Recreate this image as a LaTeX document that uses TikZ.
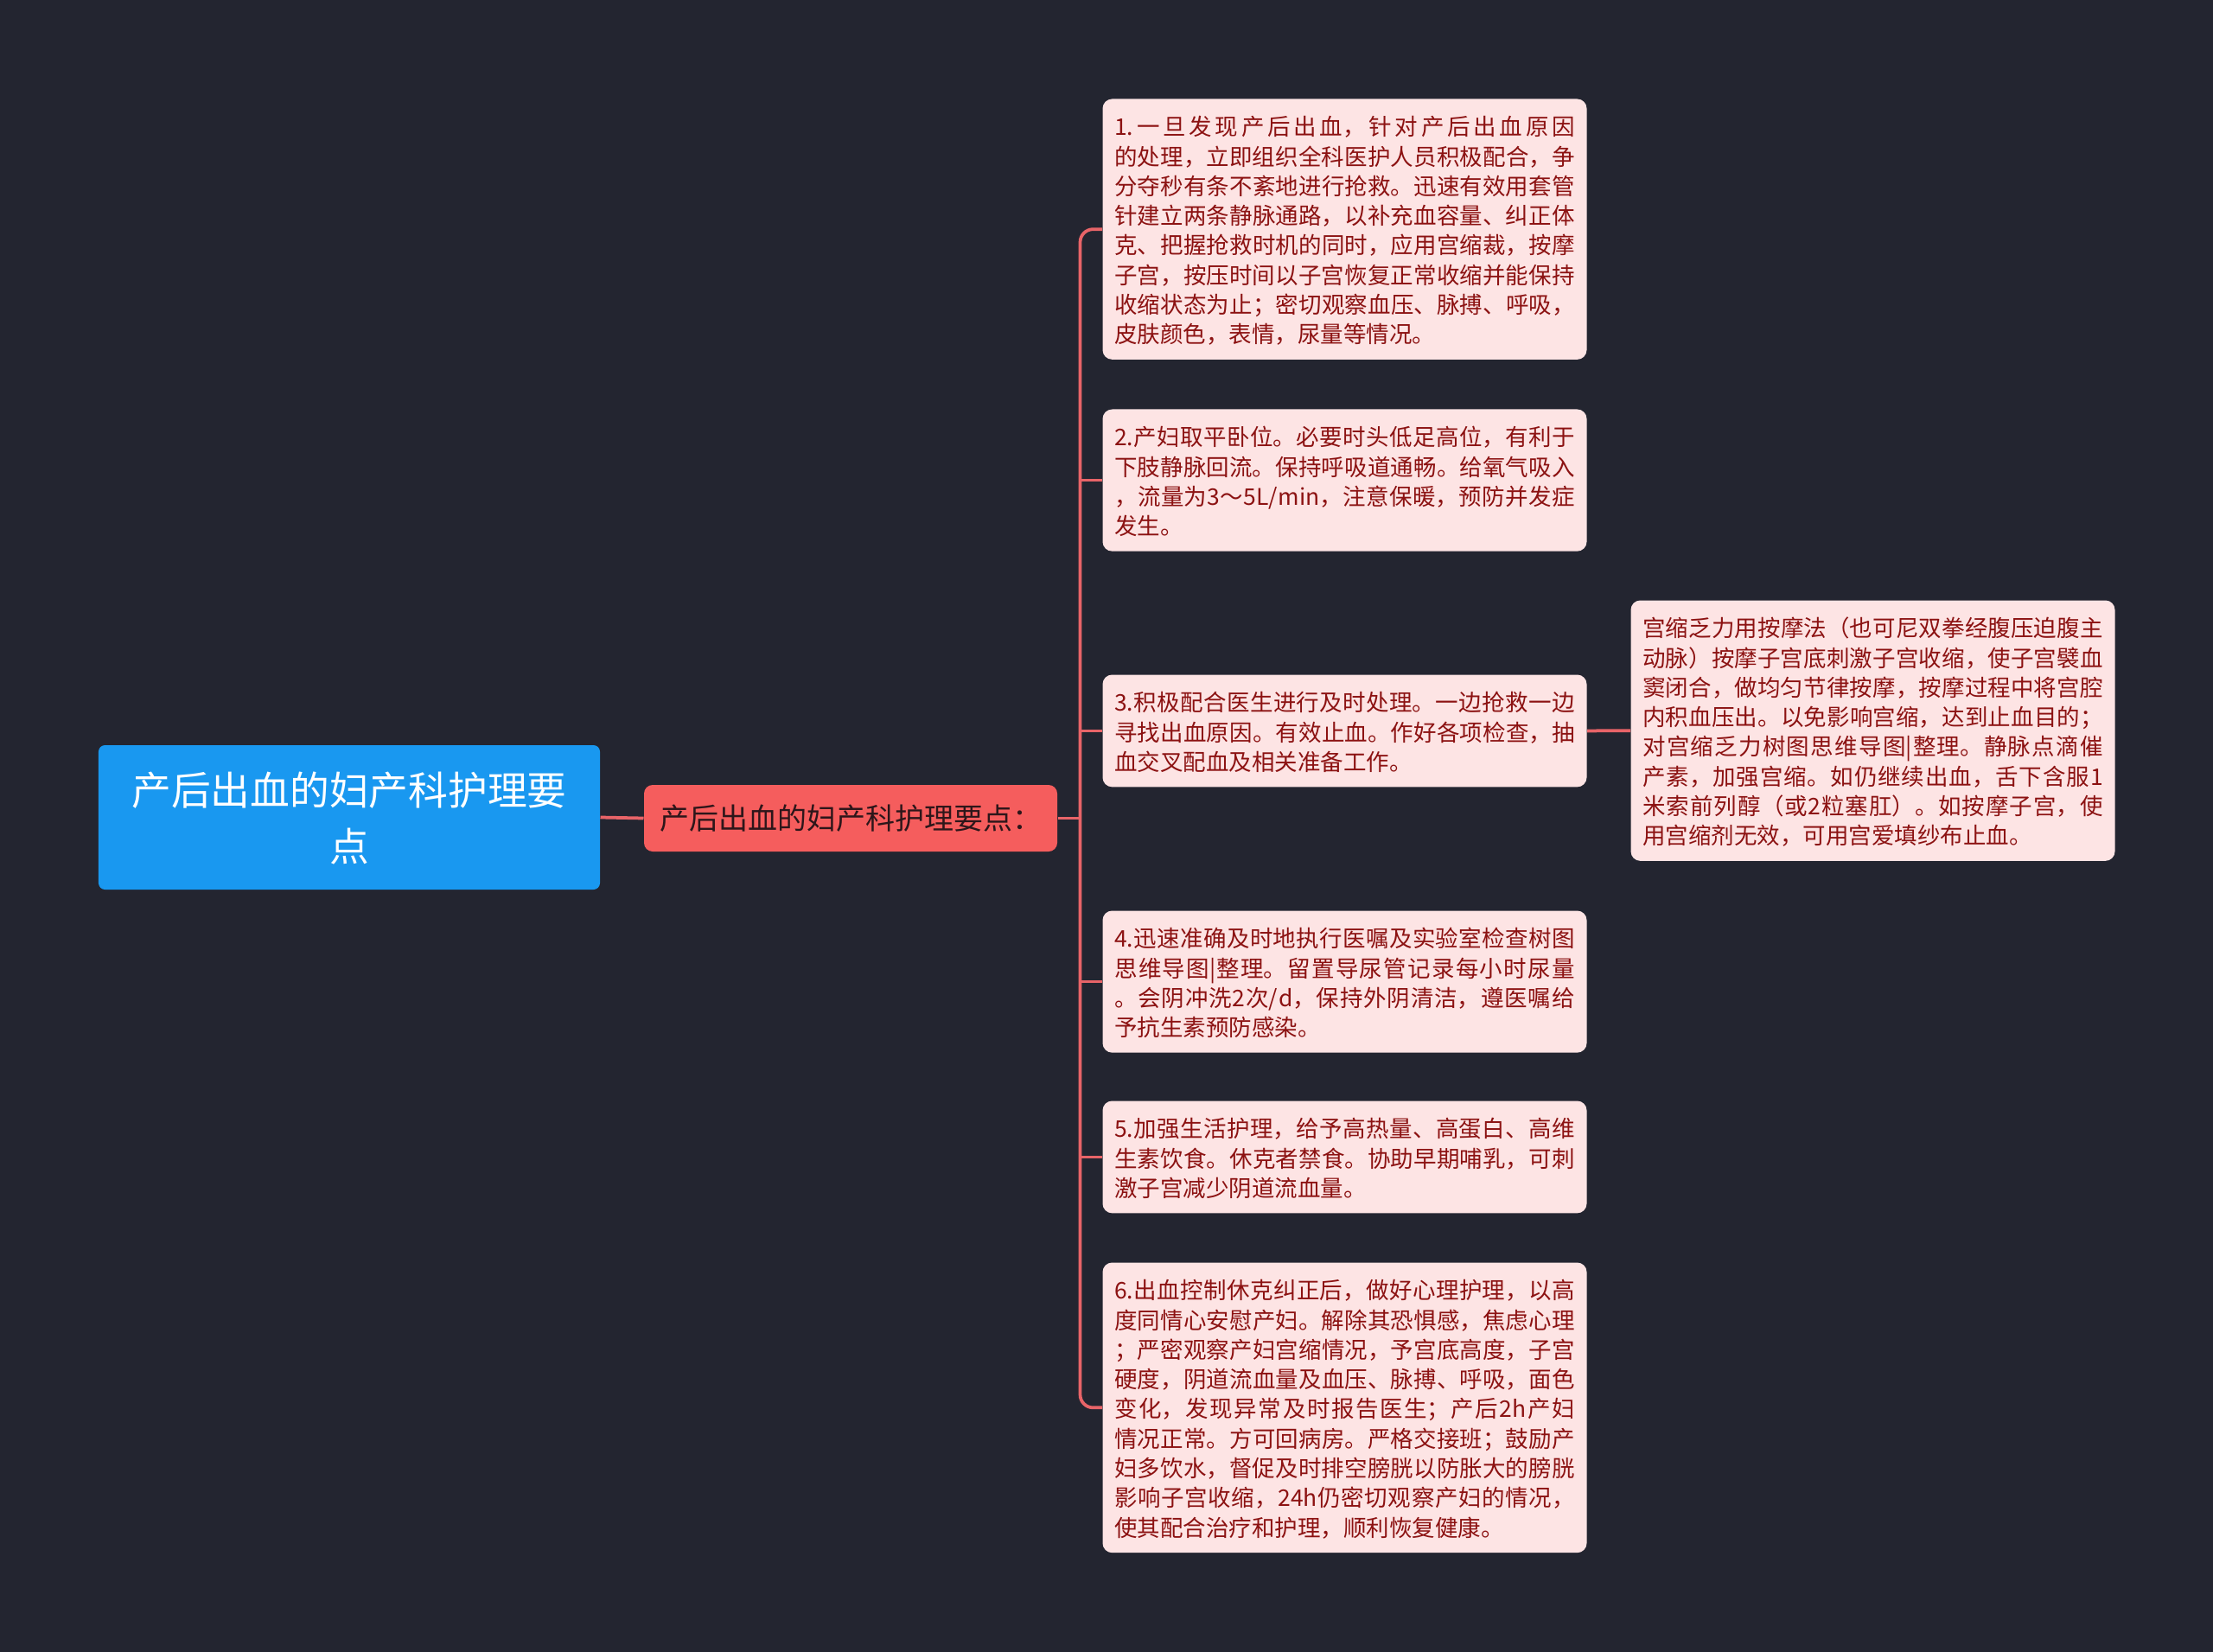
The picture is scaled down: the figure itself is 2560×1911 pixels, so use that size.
\documentclass[tikz,border=0pt]{standalone}
\usepackage{fontspec}
\setmainfont{Noto Sans CJK SC}
\definecolor{bgcol}{RGB}{35,37,48}
\definecolor{rootcol}{RGB}{25,152,240}
\definecolor{subcol}{RGB}{245,93,93}
\definecolor{leafcol}{RGB}{253,228,228}
\definecolor{leaftext}{RGB}{140,18,18}
\definecolor{linkcol}{RGB}{232,100,104}
\newcommand\nl{\linebreak}
\begin{document}
\begin{tikzpicture}[x=0.4pt,y=-0.4pt,
    link/.style={draw=linkcol,line width=1.5pt},
    rootbox/.style={fill=rootcol,rounded corners=3pt,text=white,
      font=\fontsize{18.3pt}{26pt}\selectfont,text width=232pt,align=center,
      inner xsep=0pt,inner ysep=7.4pt,minimum height=66.8pt,
      execute at begin node=\rule{0pt}{20.2pt},
      execute at end node=\rule[-5.8pt]{0pt}{1pt}},
    subbox/.style={fill=subcol,rounded corners=4pt,text={rgb,255:red,45;green,22;blue,26},
      font=\fontsize{13.6pt}{16pt}\selectfont,minimum width=191.2pt,minimum height=30.8pt,
      inner sep=0pt},
    leafbox/.style={fill=leafcol,rounded corners=4.4pt,text=leaftext,anchor=north west,
      font=\fontsize{10.6pt}{13.72pt}\selectfont,text width=213pt,align=justify,
      inner xsep=5.5pt,inner ysep=5.4pt,
      execute at begin node={\rule{0pt}{11.5pt}\XeTeXlinebreaklocale "zh"%
        \XeTeXlinebreakskip=0pt plus 1fil\parfillskip=0pt plus 1fill},
      execute at end node=\rule[-2.2pt]{0pt}{1pt}}]
  \fill[bgcol] (0,0) rectangle (2560,1911);
  \useasboundingbox (0,0) rectangle (2560,1911);
  % centre and first branch
  \node[rootbox] (root) at (404,945.5) {产后出血的妇产科护理要\\点};
  \node[subbox] (sub) at (984,946.5) {产后出血的妇产科护理要点：};
  \coordinate (spine) at ([xshift=10.4pt]sub.east);
  % leaves
  \node[leafbox] (c1) at (1275,114) {1.一旦发现产后出血，针对产后出血原因\nl 的处理，立即组织全科医护人员积极配合，争\nl 分夺秒有条不紊地进行抢救。迅速有效用套管\nl 针建立两条静脉通路，以补充血容量、纠正体\nl 克、把握抢救时机的同时，应用宫缩裁，按摩\nl 子宫，按压时间以子宫恢复正常收缩并能保持\nl 收缩状态为止；密切观察血压、脉搏、呼吸，\nl 皮肤颜色，表情，尿量等情况。};
  \node[leafbox] (c2) at (1275,473) {2.产妇取平卧位。必要时头低足高位，有利于\nl 下肢静脉回流。保持呼吸道通畅。给氧气吸入\nl ，流量为3～5L/min，注意保暖，预防并发症\nl 发生。};
  \node[leafbox] (c3) at (1275,780) {3.积极配合医生进行及时处理。一边抢救一边\nl 寻找出血原因。有效止血。作好各项检查，抽\nl 血交叉配血及相关准备工作。};
  \node[leafbox] (c4) at (1275,1053) {4.迅速准确及时地执行医嘱及实验室检查树图\nl 思维导图|整理。留置导尿管记录每小时尿量\nl 。会阴冲洗2次/d，保持外阴清洁，遵医嘱给\nl 予抗生素预防感染。};
  \node[leafbox] (c5) at (1275,1273) {5.加强生活护理，给予高热量、高蛋白、高维\nl 生素饮食。休克者禁食。协助早期哺乳，可刺\nl 激子宫减少阴道流血量。};
  \node[leafbox] (c6) at (1275,1460) {6.出血控制休克纠正后，做好心理护理，以高\nl 度同情心安慰产妇。解除其恐惧感，焦虑心理\nl ；严密观察产妇宫缩情况，予宫底高度，子宫\nl 硬度，阴道流血量及血压、脉搏、呼吸，面色\nl 变化，发现异常及时报告医生；产后2h产妇\nl 情况正常。方可回病房。严格交接班；鼓励产\nl 妇多饮水，督促及时排空膀胱以防胀大的膀胱\nl 影响子宫收缩，24h仍密切观察产妇的情况，\nl 使其配合治疗和护理，顺利恢复健康。};
  \node[leafbox] (r3) at (1886,694) {宫缩乏力用按摩法（也可尼双拳经腹压迫腹主\nl 动脉）按摩子宫底刺激子宫收缩，使子宫襞血\nl 窦闭合，做均匀节律按摩，按摩过程中将宫腔\nl 内积血压出。以免影响宫缩，达到止血目的；\nl 对宫缩乏力树图思维导图|整理。静脉点滴催\nl 产素，加强宫缩。如仍继续出血，舌下含服1\nl 米索前列醇（或2粒塞肛）。如按摩子宫，使\nl 用宫缩剂无效，可用宫爱填纱布止血。};
  % connectors
  \draw[link] (root.east) -- (sub.west);
  \draw[link] (sub.east) -- (spine);
  \draw[link,rounded corners=6pt] (c1.west) -| (spine) |- (c6.west);
  \foreach \n in {c2,c3,c4,c5}
    \draw[link] (\n.west) -- (\n.west -| spine);
  \draw[link] (c3.east) -- (r3.west);
\end{tikzpicture}
\end{document}
